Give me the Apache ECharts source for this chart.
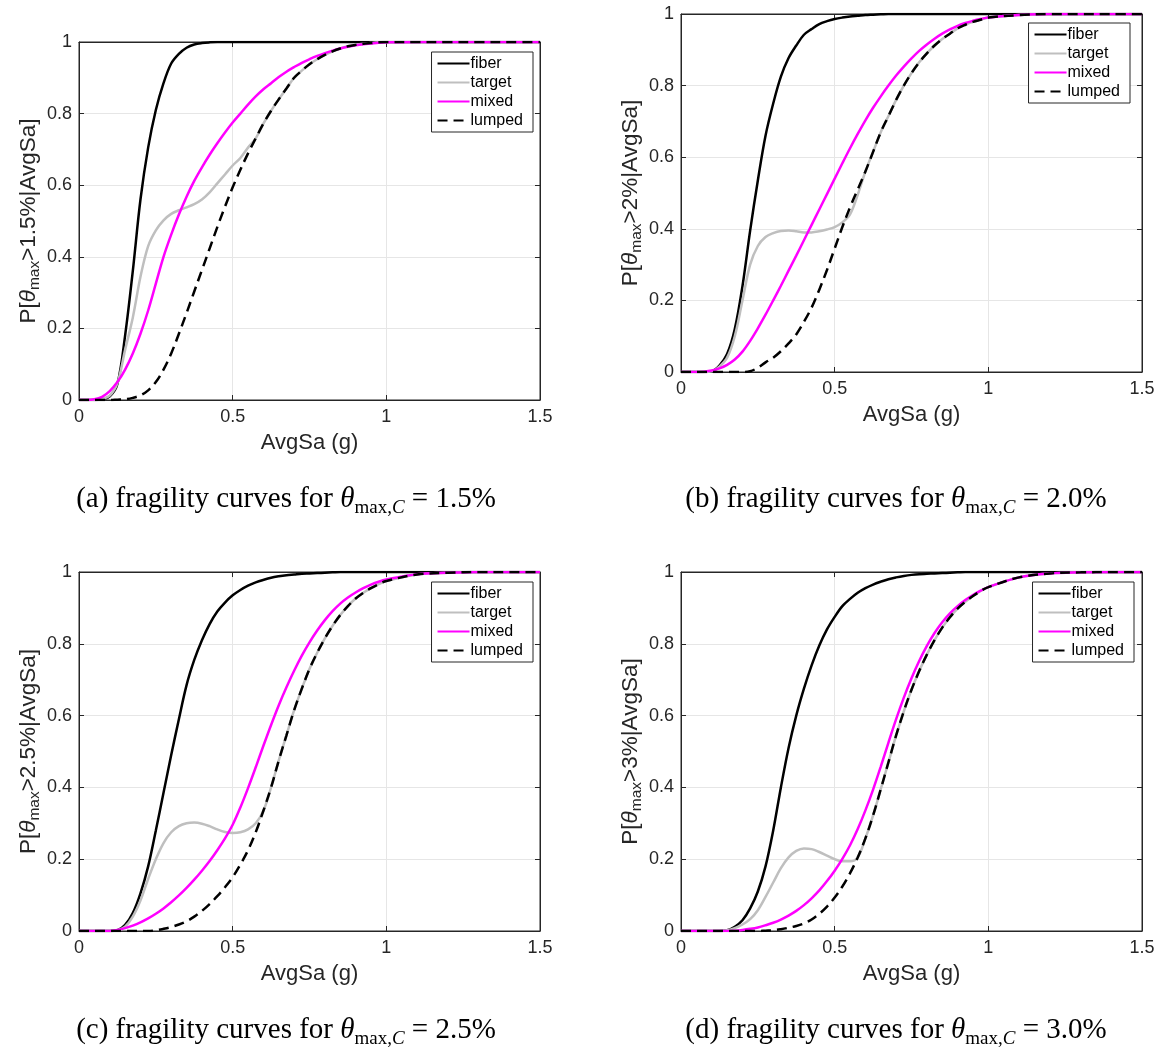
<!DOCTYPE html>
<html>
<head>
<meta charset="utf-8">
<title>fragility curves</title>
<script src="https://cdn.jsdelivr.net/npm/echarts@6/dist/echarts.min.js"></script>
<style>
  html, body { margin: 0; padding: 0; background: #fff; }
  #main { width: 1164px; height: 1050px; }
</style>
</head>
<body>
<div id="main"></div>
<script>
// AvgSa (g) sample points shared by every curve
const avgSa = [0, 0.025, 0.05, 0.075, 0.1, 0.125, 0.15, 0.175, 0.2, 0.225,
  0.25, 0.275, 0.3, 0.325, 0.35, 0.375, 0.4, 0.425, 0.45, 0.475,
  0.5, 0.525, 0.55, 0.575, 0.6, 0.625, 0.65, 0.675, 0.7, 0.725,
  0.75, 0.775, 0.8, 0.825, 0.85, 0.875, 0.9, 0.925, 0.95, 0.975,
  1.0, 1.1, 1.2, 1.3, 1.4, 1.5];

// (a) theta_max,C = 1.5%
const fiberA = [0, 0, 0, 0.002, 0.01, 0.045, 0.18, 0.36, 0.56, 0.705,
  0.81, 0.885, 0.94, 0.967, 0.984, 0.993, 0.997, 0.999, 1, 1,
  1, 1, 1, 1, 1, 1, 1, 1, 1, 1,
  1, 1, 1, 1, 1, 1, 1, 1, 1, 1,
  1, 1, 1, 1, 1, 1];
const targetA = [0, 0, 0, 0.003, 0.012, 0.047, 0.14, 0.23, 0.344, 0.43,
  0.474, 0.502, 0.52, 0.53, 0.538, 0.547, 0.56, 0.58, 0.605, 0.63,
  0.655, 0.676, 0.705, 0.731, 0.772, 0.808, 0.84, 0.87, 0.9, 0.92,
  0.938, 0.952, 0.964, 0.974, 0.982, 0.988, 0.992, 0.995, 0.997, 0.999,
  1, 1, 1, 1, 1, 1];
const mixedA = [0, 0, 0.002, 0.009, 0.025, 0.05, 0.085, 0.13, 0.185, 0.25,
  0.325, 0.4, 0.462, 0.518, 0.568, 0.612, 0.65, 0.685, 0.717, 0.747,
  0.775, 0.8, 0.825, 0.848, 0.868, 0.885, 0.902, 0.917, 0.93, 0.942,
  0.952, 0.961, 0.969, 0.976, 0.982, 0.987, 0.991, 0.994, 0.996, 0.998,
  0.999, 1, 1, 1, 1, 1];
const lumpedA = [0, 0, 0, 0, 0, 0.001, 0.002, 0.006, 0.013, 0.027,
  0.05, 0.085, 0.13, 0.185, 0.243, 0.303, 0.363, 0.423, 0.483, 0.54,
  0.594, 0.643, 0.689, 0.731, 0.772, 0.808, 0.84, 0.87, 0.9, 0.92,
  0.938, 0.952, 0.964, 0.974, 0.982, 0.988, 0.992, 0.995, 0.997, 0.999,
  1, 1, 1, 1, 1, 1];

// (b) theta_max,C = 2.0%
const fiberB = [0, 0, 0, 0, 0.002, 0.018, 0.05, 0.12, 0.24, 0.395,
  0.535, 0.66, 0.75, 0.825, 0.877, 0.912, 0.942, 0.958, 0.972, 0.98,
  0.986, 0.99, 0.993, 0.995, 0.997, 0.998, 0.999, 1, 1, 1,
  1, 1, 1, 1, 1, 1, 1, 1, 1, 1,
  1, 1, 1, 1, 1, 1];
const targetB = [0, 0, 0, 0, 0.002, 0.015, 0.04, 0.1, 0.2, 0.3,
  0.352, 0.377, 0.388, 0.394, 0.395, 0.393, 0.39, 0.39, 0.393, 0.398,
  0.405, 0.418, 0.44, 0.495, 0.56, 0.615, 0.67, 0.715, 0.76, 0.8,
  0.835, 0.865, 0.89, 0.912, 0.93, 0.945, 0.96, 0.97, 0.978, 0.984,
  0.99, 0.997, 1, 1, 1, 1];
const mixedB = [0, 0, 0, 0.001, 0.004, 0.01, 0.02, 0.035, 0.057, 0.087,
  0.122, 0.16, 0.2, 0.241, 0.283, 0.325, 0.368, 0.411, 0.454, 0.497,
  0.54, 0.583, 0.625, 0.665, 0.703, 0.738, 0.77, 0.8, 0.828, 0.853,
  0.876, 0.897, 0.915, 0.931, 0.945, 0.957, 0.967, 0.975, 0.981, 0.986,
  0.99, 0.997, 1, 1, 1, 1];
const lumpedB = [0, 0, 0, 0, 0, 0, 0, 0, 0, 0.002,
  0.012, 0.027, 0.04, 0.058, 0.08, 0.105, 0.14, 0.18, 0.23, 0.285,
  0.345, 0.405, 0.46, 0.51, 0.56, 0.615, 0.67, 0.715, 0.76, 0.8,
  0.835, 0.865, 0.89, 0.912, 0.93, 0.945, 0.96, 0.97, 0.978, 0.984,
  0.99, 0.997, 1, 1, 1, 1];

// (c) theta_max,C = 2.5%
const fiberC = [0, 0, 0, 0, 0, 0.002, 0.017, 0.05, 0.105, 0.18,
  0.28, 0.385, 0.49, 0.59, 0.685, 0.755, 0.81, 0.855, 0.89, 0.915,
  0.935, 0.95, 0.962, 0.971, 0.978, 0.984, 0.988, 0.991, 0.993, 0.995,
  0.996, 0.997, 0.998, 0.999, 1, 1, 1, 1, 1, 1,
  1, 1, 1, 1, 1, 1];
const targetC = [0, 0, 0, 0, 0, 0.002, 0.012, 0.04, 0.085, 0.145,
  0.2, 0.245, 0.275, 0.292, 0.3, 0.302, 0.299, 0.292, 0.283, 0.276,
  0.273, 0.275, 0.283, 0.3, 0.335, 0.4, 0.475, 0.545, 0.615, 0.675,
  0.73, 0.775, 0.815, 0.85, 0.88, 0.905, 0.926, 0.942, 0.955, 0.966,
  0.975, 0.993, 0.998, 1, 1, 1];
const mixedC = [0, 0, 0, 0, 0, 0.003, 0.008, 0.015, 0.024, 0.035,
  0.048, 0.063, 0.08, 0.099, 0.12, 0.143, 0.168, 0.195, 0.225, 0.258,
  0.296, 0.344, 0.398, 0.456, 0.516, 0.574, 0.629, 0.679, 0.725, 0.767,
  0.804, 0.837, 0.866, 0.891, 0.912, 0.929, 0.943, 0.955, 0.965, 0.973,
  0.979, 0.994, 0.998, 1, 1, 1];
const lumpedC = [0, 0, 0, 0, 0, 0, 0, 0, 0, 0,
  0.002, 0.006, 0.011, 0.018, 0.027, 0.04, 0.056, 0.075, 0.097, 0.122,
  0.15, 0.185, 0.225, 0.275, 0.335, 0.4, 0.475, 0.545, 0.615, 0.675,
  0.73, 0.775, 0.815, 0.85, 0.88, 0.905, 0.926, 0.942, 0.955, 0.966,
  0.975, 0.993, 0.998, 1, 1, 1];

// (d) theta_max,C = 3.0%
const fiberD = [0, 0, 0, 0, 0, 0, 0.002, 0.012, 0.03, 0.063,
  0.11, 0.18, 0.28, 0.4, 0.51, 0.6, 0.675, 0.74, 0.795, 0.84,
  0.875, 0.905, 0.925, 0.942, 0.955, 0.965, 0.973, 0.98, 0.985, 0.989,
  0.992, 0.994, 0.995, 0.996, 0.997, 0.998, 0.999, 1, 1, 1,
  1, 1, 1, 1, 1, 1];
const targetD = [0, 0, 0, 0, 0, 0, 0.002, 0.008, 0.018, 0.033,
  0.058, 0.095, 0.135, 0.175, 0.205, 0.223, 0.23, 0.228, 0.22, 0.21,
  0.2, 0.194, 0.194, 0.205, 0.258, 0.322, 0.395, 0.47, 0.545, 0.612,
  0.672, 0.724, 0.77, 0.81, 0.845, 0.874, 0.898, 0.917, 0.933, 0.947,
  0.958, 0.985, 0.996, 0.999, 1, 1];
const mixedD = [0, 0, 0, 0, 0, 0, 0, 0.001, 0.003, 0.006,
  0.01, 0.016, 0.023, 0.032, 0.043, 0.056, 0.072, 0.091, 0.113, 0.139,
  0.168, 0.201, 0.239, 0.284, 0.336, 0.394, 0.458, 0.525, 0.59, 0.65,
  0.704, 0.752, 0.794, 0.83, 0.86, 0.885, 0.905, 0.922, 0.936, 0.948,
  0.958, 0.985, 0.996, 0.999, 1, 1];
const lumpedD = [0, 0, 0, 0, 0, 0, 0, 0, 0, 0,
  0, 0.001, 0.002, 0.005, 0.009, 0.014, 0.021, 0.032, 0.048, 0.068,
  0.093, 0.124, 0.161, 0.205, 0.258, 0.322, 0.395, 0.47, 0.545, 0.612,
  0.672, 0.724, 0.77, 0.81, 0.845, 0.874, 0.898, 0.917, 0.933, 0.947,
  0.958, 0.985, 0.996, 0.999, 1, 1];

const curveNames = ['fiber', 'target', 'mixed', 'lumped'];
const panelLetters = ['(a)', '(b)', '(c)', '(d)'];
const axisThresholds = ['1.5%', '2%', '2.5%', '3%'];
const captionThresholds = ['1.5%', '2.0%', '2.5%', '3.0%'];
const panelCurves = [
  [fiberA, targetA, mixedA, lumpedA],
  [fiberB, targetB, mixedB, lumpedB],
  [fiberC, targetC, mixedC, lumpedC],
  [fiberD, targetD, mixedD, lumpedD]
];

// layout (px)
const grids = [
  { left: 79, top: 42, width: 461, height: 358 },
  { left: 681, top: 14, width: 461, height: 358 },
  { left: 79, top: 572, width: 461, height: 359 },
  { left: 681, top: 572, width: 461, height: 359 }
];
const legendPos = [
  { right: 631, top: 52 },
  { right: 34, top: 23 },
  { right: 631, top: 582 },
  { right: 30, top: 582 }
];
const captionPos = [
  { left: 286, top: 484 },
  { left: 896, top: 484 },
  { left: 286, top: 1015 },
  { left: 896, top: 1015 }
];

const lineStyles = {
  fiber: { color: '#000000', width: 2.5 },
  target: { color: '#bfbfbf', width: 2.5 },
  mixed: { color: '#ff00ff', width: 2.5 },
  lumped: { color: '#000000', width: 2.5, type: [10, 6] }
};

const axisColor = '#262626';
const gridColor = '#e6e6e6';
const sans = 'Liberation Sans, Arial, Helvetica, sans-serif';
const serif = 'Liberation Serif, Times New Roman, serif';

var myChart = echarts.init(document.getElementById('main'), null, { renderer: 'canvas' });

const xAxes = [], yAxes = [], series = [], legends = [], titles = [];

// main axes (bottom / left)
grids.forEach(function (g, i) {
  xAxes.push({
    gridIndex: i,
    type: 'value',
    position: 'bottom',
    min: 0,
    max: 1.5,
    interval: 0.5,
    name: 'AvgSa (g)',
    nameLocation: 'middle',
    nameGap: 32,
    nameTextStyle: { fontFamily: sans, fontSize: 22, color: axisColor },
    axisLine: { show: true, onZero: false, lineStyle: { color: axisColor, width: 1 } },
    axisTick: { show: true, inside: true, length: 5, lineStyle: { color: axisColor } },
    axisLabel: { fontFamily: sans, fontSize: 18, color: axisColor, margin: 8 },
    splitLine: { show: true, lineStyle: { color: gridColor, width: 1 } }
  });
  yAxes.push({
    gridIndex: i,
    type: 'value',
    position: 'left',
    min: 0,
    max: 1,
    interval: 0.2,
    name: '{a|P[}{t|θ}{s|max}{a|>' + axisThresholds[i] + '|AvgSa]}',
    nameLocation: 'middle',
    nameRotate: 90,
    nameGap: 31,
    nameTextStyle: {
      color: axisColor,
      rich: {
        a: { fontFamily: sans, fontSize: 22.5, lineHeight: 24, color: axisColor },
        t: { fontFamily: sans, fontSize: 22.5, lineHeight: 24, fontStyle: 'italic', color: axisColor },
        s: { fontFamily: sans, fontSize: 15.5, lineHeight: 16, padding: [13, 0, 0, 0], color: axisColor }
      }
    },
    axisLine: { show: true, lineStyle: { color: axisColor, width: 1 } },
    axisTick: { show: true, inside: true, length: 5, lineStyle: { color: axisColor } },
    axisLabel: { fontFamily: sans, fontSize: 18, color: axisColor, margin: 7 },
    splitLine: { show: true, lineStyle: { color: gridColor, width: 1 } }
  });
});

// mirror axes (top / right) for the box ticks
grids.forEach(function (g, i) {
  xAxes.push({
    gridIndex: i, type: 'value', position: 'top', min: 0, max: 1.5, interval: 0.5,
    axisLine: { show: true, onZero: false, lineStyle: { color: axisColor, width: 1 } },
    axisTick: { show: true, inside: true, length: 5, lineStyle: { color: axisColor } },
    axisLabel: { show: false }, splitLine: { show: false }
  });
  yAxes.push({
    gridIndex: i, type: 'value', position: 'right', min: 0, max: 1, interval: 0.2,
    axisLine: { show: true, onZero: false, lineStyle: { color: axisColor, width: 1 } },
    axisTick: { show: true, inside: true, length: 5, lineStyle: { color: axisColor } },
    axisLabel: { show: false }, splitLine: { show: false }
  });
});

grids.forEach(function (g, i) {
  panelCurves[i].forEach(function (ys, k) {
    const name = curveNames[k];
    series.push({
      name: name,
      type: 'line',
      xAxisIndex: i,
      yAxisIndex: i,
      data: avgSa.map(function (x, n) { return [x, ys[n]]; }),
      showSymbol: false,
      symbol: 'none',
      smooth: 0.35,
      color: lineStyles[name].color,
      lineStyle: lineStyles[name],
      emphasis: { disabled: true }
    });
  });

  legends.push({
    orient: 'vertical',
    right: legendPos[i].right,
    top: legendPos[i].top,
    data: curveNames,
    itemWidth: 32,
    itemHeight: 10,
    itemGap: 2,
    padding: [3, 10, 3, 5],
    borderColor: axisColor,
    borderWidth: 1,
    backgroundColor: '#ffffff',
    selectedMode: false,
    itemStyle: { opacity: 0 },
    textStyle: { fontFamily: sans, fontSize: 16, lineHeight: 17, color: '#000000', padding: [0, 0, 0, -4] }
  });

  titles.push({
    text: '{p|' + panelLetters[i] + ' fragility curves for }{t|θ}{s|max,}{c|C}{p| = ' + captionThresholds[i] + '}',
    left: captionPos[i].left,
    top: captionPos[i].top,
    textAlign: 'center',
    padding: 0,
    textStyle: {
      fontWeight: 'normal',
      rich: {
        p: { fontFamily: serif, fontSize: 29, lineHeight: 30, fontWeight: 'normal', color: '#000000' },
        t: { fontFamily: serif, fontSize: 29, lineHeight: 30, fontWeight: 'normal', fontStyle: 'italic', color: '#000000' },
        s: { fontFamily: serif, fontSize: 19, lineHeight: 18, fontWeight: 'normal', padding: [18, 0, 0, 0], color: '#000000' },
        c: { fontFamily: serif, fontSize: 19, lineHeight: 18, fontWeight: 'normal', padding: [18, 0, 0, 0], fontStyle: 'italic', color: '#000000' }
      }
    }
  });
});

const option = {
  backgroundColor: '#ffffff',
  animation: false,
  title: titles,
  legend: legends,
  grid: grids.map(function (g) {
    return Object.assign({ show: true, borderColor: axisColor, borderWidth: 1, backgroundColor: 'transparent' }, g);
  }),
  xAxis: xAxes,
  yAxis: yAxes,
  series: series
};
myChart.setOption(option);
</script>
</body>
</html>
